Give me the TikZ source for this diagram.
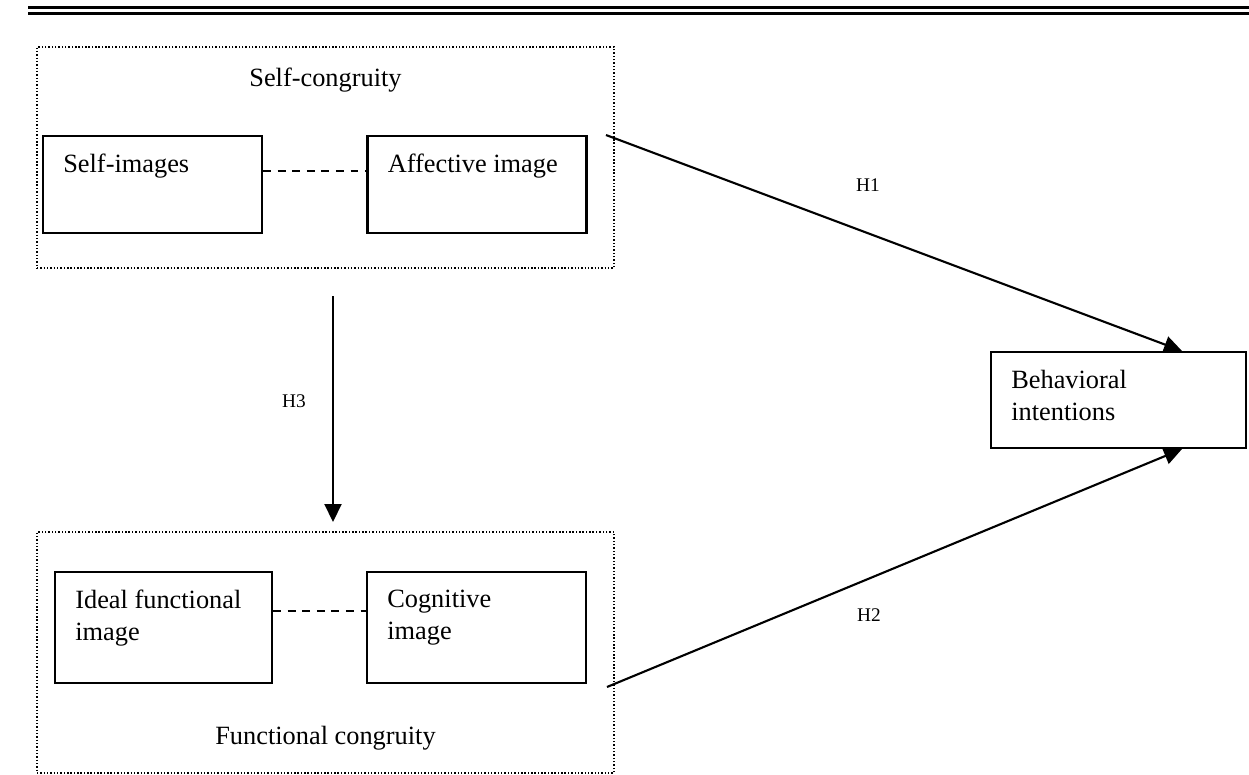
\documentclass[tikz,border=0pt]{standalone}
\usepackage{fontspec}
\setmainfont{Liberation Serif}
\usetikzlibrary{arrows.meta,positioning}

\begin{document}
\begin{tikzpicture}[x=0.02cm, y=-0.02cm, font=\fontsize{15}{18}\selectfont]
    \tikzstyle{group_style} = [draw, line width=0.7pt, dash pattern=on 0.8pt off 1.1pt, minimum width=11.54cm]
    \tikzstyle{box_style} = [draw, line width=1.2pt, minimum width=4.38cm]
    \tikzstyle{text_style} = [inner sep=0pt, align=left]
    \tikzstyle{hyp_style} = [inner sep=0pt, font=\fontsize{11}{13}\selectfont]
    \tikzstyle{edge_style} = [draw=black, line width=1.2pt, -{Triangle[length=0.36cm, width=0.34cm]}]
    \tikzstyle{link_style} = [draw=black, line width=1pt, dash pattern=on 4.5pt off 3.8pt]
    \useasboundingbox (0,0) rectangle (1249,775);

    % double rule on top
    \draw[line width=0.055cm] (28,7.8) -- (1249,7.8);
    \draw[line width=0.055cm] (28,13.6) -- (1249,13.6);

    \node[group_style, minimum height=4.42cm] (selfcong) at (325.5,157.5) {};
    \node[group_style, minimum height=4.82cm] (funccong) at (325.5,652.5) {};
    \node[inner sep=0pt] (selftitle) at (325.5,80) {Self-congruity};
    \node[inner sep=0pt] (functitle) at (325.5,738) {Functional congruity};

    \node[box_style, minimum height=1.94cm] (selfimg) at (152.5,184.5) {};
    \node[box_style, minimum height=1.94cm] (affimg) at (477,184.5) {};
    \node[box_style, minimum height=2.22cm, minimum width=4.34cm] (idealimg) at (163.5,627.5) {};
    \node[box_style, minimum height=2.22cm] (cogimg) at (476.5,627.5) {};
    \node[box_style, minimum height=1.92cm, minimum width=5.1cm] (behav) at (1118.5,400) {};

    \node[text_style, below right=0.38cm and 0.42cm of selfimg.north west] (selfimgtext) {Self-images};
    \node[text_style, below right=0.38cm and 0.42cm of affimg.north west] (affimgtext) {Affective image};
    \node[text_style, below right=0.38cm and 0.42cm of idealimg.north west] (idealimgtext) {Ideal functional\\image};
    \node[text_style, below right=0.38cm and 0.42cm of cogimg.north west] (cogimgtext) {Cognitive\\image};
    \node[text_style, below right=0.38cm and 0.42cm of behav.north west] (behavtext) {Behavioral\\intentions};

    \draw[link_style] ([yshift=-0.72cm]selfimg.north east) -- ([yshift=-0.72cm]affimg.north west);
    \draw[link_style] ([yshift=-0.8cm]idealimg.north east) -- ([yshift=-0.8cm]cogimg.north west);

    \coordinate (h1s) at (606,135);
    \coordinate (h2s) at (607,687);
    \coordinate (h3s) at (333,296);
    \coordinate (h3e) at (333,522);

    \draw[edge_style] (h1s) -- ([xshift=1.27cm]behav.north);
    \draw[edge_style] (h2s) -- ([xshift=1.27cm]behav.south);
    \draw[edge_style] (h3s) -- (h3e);

    \node[hyp_style] (h1) at (868,185) {H1};
    \node[hyp_style] (h2) at (869,615) {H2};
    \node[hyp_style] (h3) at (294,401) {H3};
\end{tikzpicture}
\end{document}
